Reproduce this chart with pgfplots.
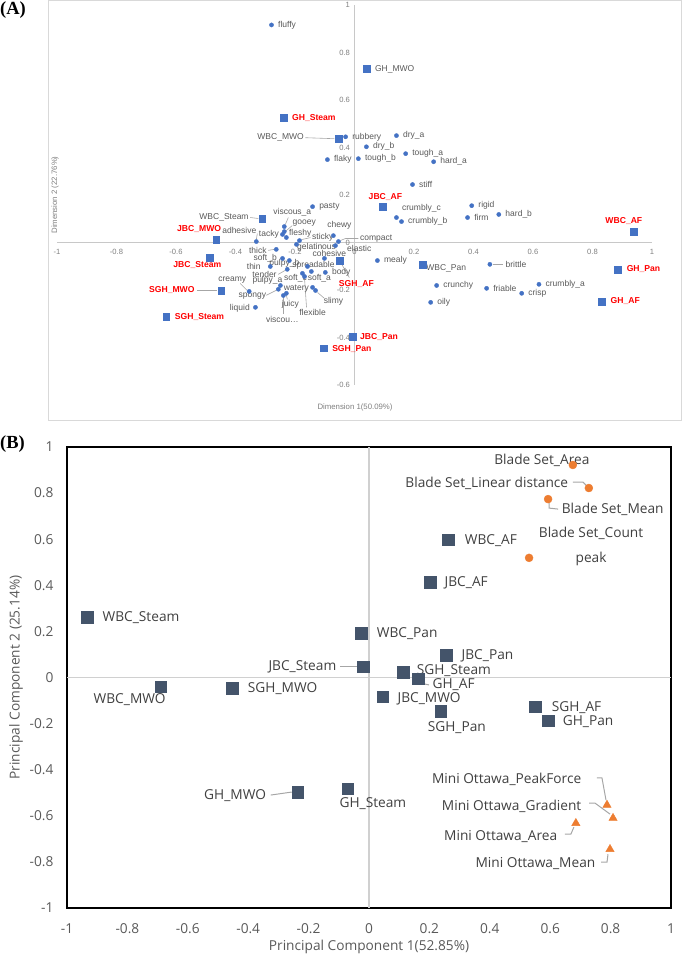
\documentclass[border=0pt]{standalone}
\usepackage{pgfplots}
\usepackage{pgfplotstable}
\pgfplotsset{compat=1.18}
\usepackage{fontspec}
\setmainfont{Liberation Sans}
\newfontfamily\openfont{Open Sans}
\newfontfamily\timesfont{Liberation Serif}

\definecolor{dotblue}{HTML}{4472C4}
\definecolor{redlbl}{HTML}{FF0000}
\definecolor{greylbl}{HTML}{595959}
\definecolor{tickA}{HTML}{7F7F7F}
\definecolor{axisA}{HTML}{C8C8C8}
\definecolor{frameA}{HTML}{D9D9D9}
\definecolor{navy}{HTML}{44546A}
\definecolor{orng}{HTML}{ED7D31}
\definecolor{textB}{HTML}{404040}
\definecolor{tickB}{HTML}{595959}
\definecolor{zeroB}{HTML}{D0D0D0}
\definecolor{leadc}{HTML}{A6A6A6}

% label every row of a table: anchor, shift dx/dy (pt, y up), text
\newcommand\labelrows[2]{%
  \pgfplotstablegetrowsof{#1}\pgfmathtruncatemacro\nrow{\pgfplotsretval-1}%
  \pgfplotsforeachungrouped \i in {0,...,\nrow}{%
    \pgfplotstablegetelem{\i}{x}\of{#1}\let\vx\pgfplotsretval
    \pgfplotstablegetelem{\i}{y}\of{#1}\let\vy\pgfplotsretval
    \pgfplotstablegetelem{\i}{anc}\of{#1}\let\va\pgfplotsretval
    \pgfplotstablegetelem{\i}{dx}\of{#1}\let\vdx\pgfplotsretval
    \pgfplotstablegetelem{\i}{dy}\of{#1}\let\vdy\pgfplotsretval
    \pgfplotstablegetelem{\i}{label}\of{#1}\let\vl\pgfplotsretval
    \edef\tmp{\noexpand\node[\unexpanded{#2}, anchor=\va, xshift=\vdx pt, yshift=\vdy pt, inner sep=0.5pt]
      at (axis cs:\vx,\vy) {\unexpanded\expandafter{\vl}};}%
    \tmp
  }%
}

% ---- panel A: attributes
\pgfplotstableread{
x y anc dx dy label
-0.279 0.916 west 6 0 fluffy
-0.030 0.445 west 6 0 rubbery
0.141 0.450 west 6 0 dry\_a
0.040 0.403 west 6 0 dry\_b
0.172 0.374 west 6 0 tough\_a
0.013 0.353 west 6 0 tough\_b
-0.091 0.349 west 6 0 flaky
0.266 0.340 west 6 0 hard\_a
0.195 0.244 west 6 0 stiff
0.394 0.155 west 6 0 rigid
0.485 0.118 west 6 0 hard\_b
0.380 0.105 west 6 0 firm
0.141 0.105 west 5 9 crumbly\_c
0.158 0.088 west 6 0 crumbly\_b
0.077 -0.076 west 6 0 mealy
0.455 -0.092 west 15 0 brittle
0.276 -0.181 west 6 0 crunchy
0.444 -0.193 west 6 0 friable
0.620 -0.176 west 6 0 crumbly\_a
0.562 -0.214 west 6 0 crisp
0.256 -0.252 west 6 0 oily
-0.141 0.151 west 6 0 pasty
-0.236 0.067 center 8 14 viscous\_a
-0.236 0.046 center 20 8 gooey
-0.242 0.034 east -3 0 tacky
-0.229 0.021 west 2 4 fleshy
-0.330 0.004 center -17 11 adhesive
-0.185 0.008 west 12 3 sticky
-0.071 0.029 center 6 10 chewy
-0.054 0.004 west 21 3 compact
-0.064 -0.013 west 11 -3 elastic
-0.195 -0.008 west 0 -3 gelatinous
-0.101 -0.067 center 5 5 cohesive
-0.263 -0.029 east -9 -1 thick
-0.242 -0.067 east -5 0 soft\_b
-0.283 -0.101 east -9 0 thin
-0.219 -0.076 center -5 -3 pulpy\_b
-0.226 -0.113 east -10 -5 tender
-0.158 -0.101 center 6 1 spreadable
-0.175 -0.130 center -7 -5 soft\_c
-0.145 -0.122 center 8 -7 soft\_a
-0.098 -0.126 west 6 0 body
-0.249 -0.181 center -13 5 pulpy\_a
-0.354 -0.206 center -17 11 creamy
-0.256 -0.197 center -26 -7 spongy
-0.229 -0.214 center 4 -11 juicy
-0.239 -0.223 center -1 -24 viscou…
-0.333 -0.273 east -5 -1 liquid
-0.141 -0.189 east -3 -1 watery
-0.131 -0.202 center 18 -11 slimy
-0.168 -0.143 center 8 -36 flexible
}\attrA

\pgfplotstableread{
x y anc dx dy label
0.040 0.731 west 8 0 GH\_MWO
-0.054 0.437 east -34 1 WBC\_MWO
-0.310 0.101 east -13 1 WBC\_Steam
0.229 -0.092 west 3 -4 WBC\_Pan
}\sampGreyA

\pgfplotstableread{
x y anc dx dy label
-0.239 0.525 west 8 0 GH\_Steam
0.094 0.151 center 3 10 JBC\_AF
0.939 0.046 center -10 11 WBC\_AF
-0.465 0.013 center -17 10 JBC\_MWO
-0.488 -0.063 center -12 -8 JBC\_Steam
-0.448 -0.202 east -26 0 SGH\_MWO
-0.633 -0.311 west 8 -1 SGH\_Steam
-0.051 -0.076 center 17 -23 SGH\_AF
-0.007 -0.395 west 7 -1 JBC\_Pan
-0.104 -0.445 west 8 -1 SGH\_Pan
0.886 -0.113 west 8 0 GH\_Pan
0.832 -0.248 west 8 0 GH\_AF
}\sampRedA

% ---- panel B
\pgfplotstableread{
x y anc dx dy label
-0.934 0.262 west 15 0 WBC\_Steam
-0.690 -0.040 center -31 -13 WBC\_MWO
-0.453 -0.047 west 15 0 SGH\_MWO
-0.236 -0.497 east -31 -4 GH\_MWO
-0.070 -0.483 center 25 -15 GH\_Steam
-0.020 0.046 east -26 0 JBC\_Steam
-0.026 0.193 west 15 -1 WBC\_Pan
0.262 0.597 west 16 -1 WBC\_AF
0.202 0.414 west 14 -1 JBC\_AF
0.255 0.098 west 15 -1 JBC\_Pan
0.113 0.024 west 13 1 SGH\_Steam
0.162 -0.006 west 14 -6 GH\_AF
0.046 -0.084 west 14 -2 JBC\_MWO
0.238 -0.145 center 16 -17 SGH\_Pan
0.550 -0.127 west 16 -1 SGH\_AF
0.593 -0.188 west 14 -1 GH\_Pan
}\sampB

\pgfplotstableread{
x y anc dx dy label
0.675 0.922 center -31 5 {Blade Set\_Area}
0.728 0.822 east -20 5 {Blade Set\_Linear distance}
0.593 0.774 west 13 -10 {Blade Set\_Mean}
0.530 0.519 center 62 11 {Blade Set\_Count\\peak}
}\bladeB

\pgfplotstableread{
x y anc dx dy label
0.788 -0.553 east -25 26 {Mini Ottawa\_PeakForce}
0.808 -0.610 east -31 12 {Mini Ottawa\_Gradient}
0.685 -0.632 east -18 -13 {Mini Ottawa\_Area}
0.798 -0.745 east -14 -14 {Mini Ottawa\_Mean}
}\ottawaB

\begin{document}
\begin{tikzpicture}
\useasboundingbox (0,0) rectangle (688pt,956pt);
\draw[frameA, line width=0.8pt] (48pt,536pt) rectangle (681pt,955.5pt);
\node[anchor=west, inner sep=0pt, font=\timesfont\bfseries\fontsize{18.5}{20}\selectfont] at (0pt,946pt) {(A)};
\node[anchor=west, inner sep=0pt, font=\timesfont\bfseries\fontsize{18.5}{20}\selectfont] at (0pt,512pt) {(B)};

% ================= panel A
\begin{axis}[
  at={(57pt,571pt)}, anchor=south west, scale only axis,
  width=595pt, height=380pt,
  xmin=-1, xmax=1, ymin=-0.6, ymax=1,
  axis lines=middle, axis line style={axisA, line width=0.8pt, -},
  xtick={-1,-0.8,-0.6,-0.4,-0.2,0,0.2,0.4,0.6,0.8,1},
  ytick={-0.6,-0.4,-0.2,0,0.2,0.4,0.6,0.8,1},
  hide obscured x ticks=false, hide obscured y ticks=false,
  major tick length=0pt,
  /pgf/number format/assume math mode=true,
  tick label style={font=\fontsize{7.6}{9}\selectfont, text=tickA},
  xticklabel style={anchor=north, yshift=-3pt},
  yticklabel style={anchor=east, xshift=-1pt},
  clip=false,
]
\draw[leadc, line width=0.6pt] (axis cs:0.455,-0.092) +(3pt,0pt) -- +(13pt,0pt);
\draw[leadc, line width=0.6pt] (axis cs:-0.236,0.067) +(1pt,2pt) -- +(4pt,9pt);
\draw[leadc, line width=0.6pt] (axis cs:-0.236,0.046) +(2pt,1pt) -- +(8pt,6pt);
\draw[leadc, line width=0.6pt] (axis cs:-0.330,0.004) +(0pt,2pt) -- +(1pt,8pt);
\draw[leadc, line width=0.6pt] (axis cs:-0.185,0.008) +(2pt,1pt) -- +(11pt,3pt);
\draw[leadc, line width=0.6pt] (axis cs:-0.054,0.004) +(2pt,1pt) -- +(7pt,3pt) -- +(20pt,3pt);
\draw[leadc, line width=0.6pt] (axis cs:-0.263,-0.029) +(-2pt,0pt) -- +(-8pt,-1pt);
\draw[leadc, line width=0.6pt] (axis cs:-0.226,-0.113) +(-2pt,-1pt) -- +(-9pt,-5pt);
\draw[leadc, line width=0.6pt] (axis cs:-0.354,-0.206) +(-2pt,1pt) -- +(-9pt,8pt);
\draw[leadc, line width=0.6pt] (axis cs:-0.256,-0.197) +(-2pt,-1pt) -- +(-12pt,-6pt);
\draw[leadc, line width=0.6pt] (axis cs:-0.229,-0.214) +(0pt,-2pt) -- +(1pt,-6pt);
\draw[leadc, line width=0.6pt] (axis cs:-0.239,-0.223) +(0pt,-2pt) -- +(0pt,-19pt);
\draw[leadc, line width=0.6pt] (axis cs:-0.131,-0.202) +(2pt,-2pt) -- +(9pt,-8pt);
\draw[leadc, line width=0.6pt] (axis cs:-0.168,-0.143) +(0pt,-2pt) -- +(2pt,-31pt);
\draw[leadc, line width=0.6pt] (axis cs:-0.054,0.437) +(-33pt,1pt) -- +(-4pt,0pt);
\draw[leadc, line width=0.6pt] (axis cs:-0.310,0.101) +(-12pt,1pt) -- +(-4pt,0pt);
\draw[leadc, line width=0.6pt] (axis cs:-0.448,-0.202) +(-24pt,0pt) -- +(-4pt,0pt);
\draw[leadc, line width=0.6pt] (axis cs:-0.051,-0.076) +(2pt,-3pt) -- +(10pt,-17pt);

\addplot[only marks, mark=*, mark size=2.1pt, color=dotblue] table {\attrA};
\addplot[only marks, mark=square*, mark size=3.4pt, color=dotblue] table {\sampGreyA};
\addplot[only marks, mark=square*, mark size=3.4pt, color=dotblue] table {\sampRedA};
\labelrows{\attrA}{text=greylbl, font=\fontsize{8.5}{10}\selectfont}
\labelrows{\sampGreyA}{text=greylbl, font=\fontsize{8.5}{10}\selectfont}
\labelrows{\sampRedA}{text=redlbl, font=\bfseries\fontsize{8.6}{10}\selectfont}
\end{axis}
\node[font=\fontsize{7.8}{9}\selectfont, text=tickA] at (355pt,549pt) {Dimension 1(50.09\%)};
\node[font=\fontsize{7.8}{9}\selectfont, text=tickA, rotate=90] at (55pt,761pt) {Dimension 2 (22.76\%)};

% ================= panel B
\begin{axis}[
  at={(67pt,48pt)}, anchor=south west, scale only axis,
  width=604pt, height=461pt,
  xmin=-1, xmax=1, ymin=-1, ymax=1,
  axis line style={black, line width=1.2pt},
  xtick={-1,-0.8,-0.6,-0.4,-0.2,0,0.2,0.4,0.6,0.8,1},
  ytick={-1,-0.8,-0.6,-0.4,-0.2,0,0.2,0.4,0.6,0.8,1},
  major tick length=0pt,
  /pgf/number format/assume math mode=true,
  tick label style={font=\openfont\fontsize{13.7}{16}\selectfont, text=tickB},
  xticklabel style={anchor=north, yshift=-12pt},
  yticklabel style={anchor=east, xshift=-10pt},
  extra x ticks={0}, extra x tick labels={},
  extra y ticks={0}, extra y tick labels={},
  extra tick style={grid=major, major grid style={zeroB, line width=1.2pt}},
  clip=false,
]
\draw[leadc, line width=1pt] (axis cs:-0.236,-0.497) +(-27pt,-3pt) -- +(-6pt,0pt);
\draw[leadc, line width=1pt] (axis cs:-0.020,0.046) +(-23pt,0pt) -- +(-6pt,0pt);
\draw[leadc, line width=1pt] (axis cs:0.162,-0.006) +(3pt,-2pt) -- +(6pt,-5pt) -- +(11pt,-6pt);
\draw[leadc, line width=1pt] (axis cs:0.728,0.822) +(-16pt,6pt) -- +(-6pt,6pt) -- +(-2pt,2pt);
\draw[leadc, line width=1pt] (axis cs:0.593,0.774) +(1pt,-3pt) -- +(1pt,-9pt) -- +(10pt,-10pt);
\draw[leadc, line width=1pt] (axis cs:0.788,-0.553) +(-10pt,27pt) -- +(-5pt,27pt) -- +(-1pt,5pt);
\draw[leadc, line width=1pt] (axis cs:0.808,-0.610) +(-24pt,15pt) -- +(-18pt,15pt) -- +(-3pt,4pt);
\draw[leadc, line width=1pt] (axis cs:0.685,-0.632) +(-11pt,-11pt) -- +(-5pt,-11pt) -- +(-2pt,-4pt);
\draw[leadc, line width=1pt] (axis cs:0.798,-0.745) +(-9pt,-13pt) -- +(-3pt,-13pt) -- +(-2pt,-5pt);

\addplot[only marks, mark=square*, mark size=5.8pt, color=navy] table {\sampB};
\addplot[only marks, mark=*, mark size=4pt, color=orng] table {\bladeB};
\addplot[only marks, mark=triangle*, mark size=4.8pt, color=orng] table {\ottawaB};
\labelrows{\sampB}{text=textB, align=center, font=\openfont\fontsize{13.7}{25}\selectfont}
\labelrows{\bladeB}{text=textB, align=center, font=\openfont\fontsize{13.7}{25}\selectfont}
\labelrows{\ottawaB}{text=textB, align=center, font=\openfont\fontsize{13.7}{25}\selectfont}
\end{axis}
\node[font=\openfont\fontsize{13.7}{16}\selectfont, text=tickB] at (369pt,9pt) {Principal Component 1(52.85\%)};
\node[font=\openfont\fontsize{13.7}{16}\selectfont, text=tickB, rotate=90] at (16pt,278.5pt) {Principal Component 2 (25.14\%)};
\end{tikzpicture}
\end{document}
